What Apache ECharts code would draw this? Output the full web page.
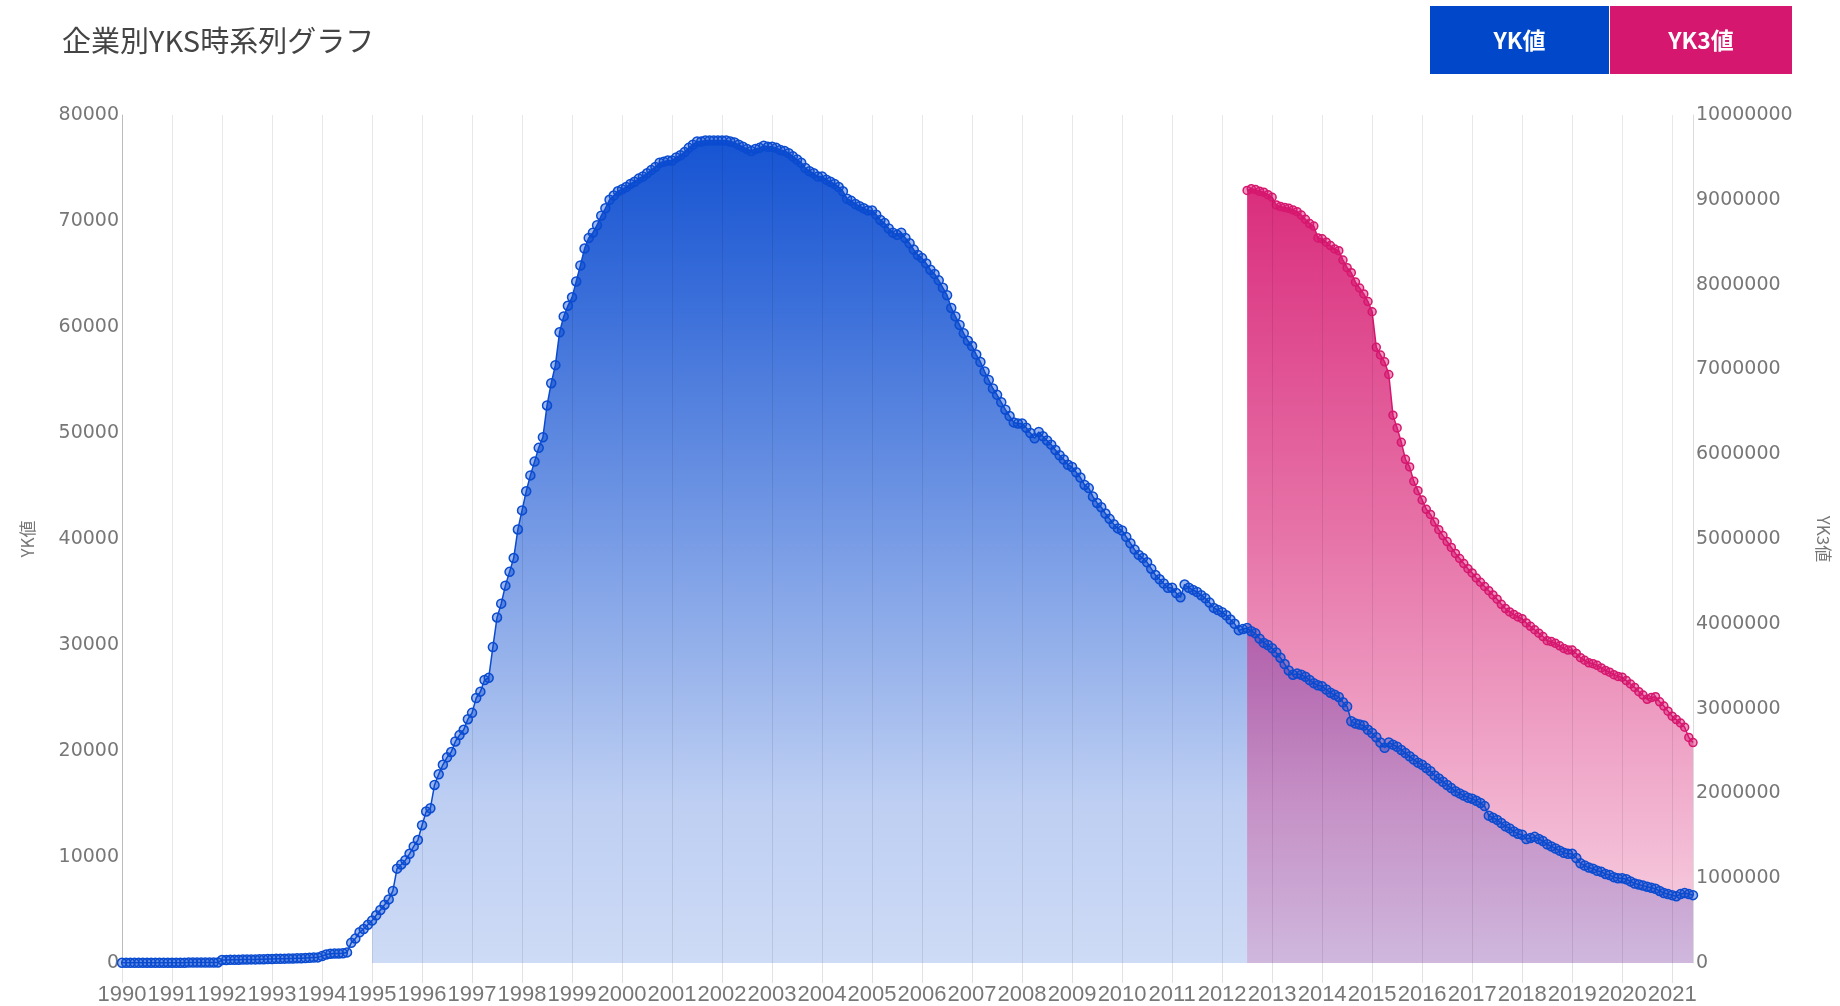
<!DOCTYPE html>
<html>
<head>
<meta charset="utf-8">
<style>
html,body{margin:0;padding:0;background:#fff;}
#chart{width:1840px;height:1006px;}
</style>
<script src="https://cdn.jsdelivr.net/npm/echarts@6/dist/echarts.min.js"></script>
</head>
<body>
<div id="chart"></div>
<script>
// ---- data ----
const titleText = '企業別YKS時系列グラフ';
const seriesNames = ['YK値', 'YK3値'];
const startYear = 1990;           // first month of the YK series: 1990-01
const areaStartMonth = '1995-01'; // YK fill begins here
const pinkStartMonth = '2012-07'; // first month of the YK3 series

// YK値 monthly, 1990-01 .. 2021-06
const blueValues = [
  20,20,20,20,20,30,30,30,30,30,30,30,
  30,30,30,30,40,40,40,40,40,40,40,50,
  280,290,300,300,310,320,330,340,340,350,360,370,
  380,390,400,410,420,430,440,450,470,490,510,530,
  650,800,880,900,900,920,1000,1900,2300,2900,3200,3600,
  4000,4500,5000,5500,6000,6800,8900,9300,9700,10300,11000,11600,
  13000,14300,14600,16800,17800,18700,19400,19900,20900,21500,22000,23000,
  23600,25000,25600,26700,26900,29800,32600,33900,35600,36900,38200,40900,
  42700,44500,46000,47300,48600,49600,52600,54700,56400,59500,61000,62000,
  62800,64300,65800,67400,68400,68900,69600,70500,71200,72000,72400,72800,
  73000,73200,73500,73700,74000,74200,74500,74800,75100,75500,75600,75700,
  75700,76000,76200,76500,76900,77200,77500,77500,77600,77600,77600,77600,
  77600,77600,77500,77400,77200,77000,76800,76600,76800,76900,77100,77000,
  77000,76900,76700,76600,76400,76100,75800,75500,75000,74700,74500,74200,
  74200,73900,73700,73500,73200,72800,72100,71900,71600,71400,71200,71000,
  71000,70600,70100,69800,69300,68900,68700,68900,68400,67900,67300,66800,
  66500,66000,65400,65000,64400,63700,63000,61800,61000,60200,59400,58700,
  58200,57400,56700,55800,55000,54200,53600,52900,52200,51600,51000,50900,
  50900,50500,50000,49500,50100,49700,49300,48900,48400,47900,47500,47000,
  46800,46300,45800,45100,44800,44000,43400,43000,42400,41900,41400,41000,
  40800,40200,39600,39000,38500,38200,37800,37200,36600,36200,35800,35400,
  35400,34900,34500,35700,35400,35200,35000,34700,34400,34000,33500,33300,
  33100,32800,32400,32000,31400,31500,31600,31300,31100,30600,30200,30000,
  29700,29300,28800,28200,27600,27200,27300,27200,27000,26700,26400,26200,
  26100,25800,25500,25300,25100,24600,24200,22800,22600,22500,22400,22000,
  21700,21300,20800,20300,20800,20600,20400,20100,19800,19500,19200,18900,
  18700,18400,18100,17700,17400,17100,16800,16500,16200,16000,15800,15600,
  15500,15300,15100,14800,13900,13700,13500,13200,12900,12700,12400,12200,
  12100,11700,11800,11900,11700,11500,11200,11000,10800,10600,10400,10300,
  10300,9900,9400,9200,9000,8900,8700,8600,8400,8300,8100,8000,
  8000,7900,7700,7500,7400,7300,7200,7100,7000,6800,6600,6500,
  6400,6300,6500,6600,6500,6400
];

// YK3値 monthly, 2012-07 .. 2021-06
const pinkValues = [
  9110000,9130000,9120000,9100000,9090000,9060000,
  9030000,8940000,8920000,8910000,8900000,8880000,8860000,8820000,8770000,8720000,8690000,8550000,
  8540000,8500000,8460000,8420000,8400000,8290000,8200000,8140000,8030000,7960000,7890000,7800000,
  7680000,7260000,7170000,7090000,6940000,6460000,6310000,6140000,5940000,5850000,5680000,5570000,
  5460000,5350000,5290000,5200000,5110000,5040000,4970000,4900000,4830000,4770000,4710000,4650000,
  4600000,4540000,4490000,4440000,4390000,4340000,4290000,4230000,4180000,4140000,4110000,4080000,
  4060000,4010000,3970000,3930000,3890000,3850000,3800000,3790000,3770000,3740000,3710000,3690000,
  3690000,3650000,3600000,3570000,3540000,3530000,3510000,3480000,3450000,3430000,3400000,3380000,
  3370000,3330000,3290000,3250000,3200000,3160000,3110000,3130000,3140000,3080000,3030000,2970000,
  2910000,2870000,2830000,2780000,2660000,2600000
];

// left / right axis ranges
const leftAxis = {min: 0, max: 80000, step: 10000};
const rightAxis = {min: 0, max: 10000000, step: 1000000};

// ---- build ----
const categories = [];
for (let i = 0; i < blueValues.length; i++) {
  const y = startYear + Math.floor(i / 12);
  const m = (i % 12) + 1;
  categories.push(y + '-' + (m < 10 ? '0' + m : '' + m));
}
const areaStart = categories.indexOf(areaStartMonth);
const blueAreaData = blueValues.map((v, i) => i < areaStart ? '-' : v);
const pinkStart = categories.indexOf(pinkStartMonth);
const pinkData = categories.map((c, i) => (i >= pinkStart && i - pinkStart < pinkValues.length) ? pinkValues[i - pinkStart] : '-');

const isJan = (idx, val) => categories[idx].slice(5) === '01';

const BLUE = '#0a4bd0';
const PINK = '#d6176f';

const chart = echarts.init(document.getElementById('chart'));
chart.setOption({
  animation: false,
  backgroundColor: '#ffffff',
  title: {
    text: titleText, left: 57, top: 21,
    textStyle: {fontSize: 29, fontWeight: 'normal', color: '#444', fontFamily: '"Noto Sans CJK JP", sans-serif'}
  },
  legend: {
    top: 6, left: 1425, itemGap: -5, itemWidth: 0, itemHeight: 0, padding: 0,
    selectedMode: false,
    data: seriesNames,
    formatter: function (name) { return (name === seriesNames[0] ? '{b|' : '{p|') + name + '}'; },
    textStyle: {
      rich: {
        b: {width: 179, height: 68, lineHeight: 68, align: 'center', backgroundColor: '#0047c9', color: '#ffffff',
            fontSize: 23, fontWeight: 'bold', fontFamily: '"Noto Sans CJK JP", sans-serif'},
        p: {width: 182, height: 68, lineHeight: 68, align: 'center', backgroundColor: '#d6176f', color: '#ffffff',
            fontSize: 23, fontWeight: 'bold', fontFamily: '"Noto Sans CJK JP", sans-serif'}
      }
    }
  },
  grid: {left: 122, right: 147, top: 115, bottom: 43, containLabel: false},
  xAxis: {
    type: 'category', data: categories, boundaryGap: false, z: 3,
    axisLine: {show: false},
    axisTick: {show: true, length: 20, interval: isJan, lineStyle: {color: '#e2e2e2'}},
    axisLabel: {interval: isJan, hideOverlap: false,
                formatter: v => v.slice(0, 4), fontSize: 22, color: '#777',
                fontFamily: '"Liberation Sans", Arial, sans-serif', margin: 21},
    splitLine: {show: true, interval: isJan, lineStyle: {color: 'rgba(0,0,0,0.09)', width: 1}}
  },
  yAxis: [
    {
      type: 'value', min: leftAxis.min, max: leftAxis.max, interval: leftAxis.step,
      name: seriesNames[0], nameLocation: 'middle', nameGap: 86,
      nameTextStyle: {fontSize: 17, color: '#777', fontFamily: '"Noto Sans CJK JP", sans-serif'},
      axisLine: {show: true, lineStyle: {color: '#cfcfcf'}},
      axisTick: {show: false}, splitLine: {show: false},
      axisLabel: {fontSize: 19, color: '#777', fontFamily: '"DejaVu Sans", sans-serif', margin: 3, formatter: v => String(v)}
    },
    {
      type: 'value', position: 'right', min: rightAxis.min, max: rightAxis.max, interval: rightAxis.step,
      name: seriesNames[1], nameLocation: 'middle', nameGap: 122, nameRotate: -90,
      nameTextStyle: {fontSize: 17, color: '#777', fontFamily: '"Noto Sans CJK JP", sans-serif'},
      axisLine: {show: true, lineStyle: {color: '#dcdcdc'}},
      axisTick: {show: false}, splitLine: {show: false},
      axisLabel: {fontSize: 19, color: '#777', fontFamily: '"DejaVu Sans", sans-serif', margin: 3, formatter: v => String(v)}
    }
  ],
  series: [
    {
      name: seriesNames[0], type: 'line', data: blueAreaData, symbol: 'none', silent: true, z: 1,
      lineStyle: {width: 0, opacity: 0}, itemStyle: {color: BLUE},
      areaStyle: {
        opacity: 1,
        color: new echarts.graphic.LinearGradient(0, 0, 0, 1, [
          {offset: 0, color: 'rgba(10,75,208,0.95)'},
          {offset: 0.2, color: 'rgba(10,75,208,0.8)'},
          {offset: 0.5, color: 'rgba(10,75,208,0.54)'},
          {offset: 0.8, color: 'rgba(10,75,208,0.27)'},
          {offset: 1, color: 'rgba(10,75,208,0.2)'}
        ])
      }
    },
    {
      name: seriesNames[1], type: 'line', yAxisIndex: 1, data: pinkData, z: 2,
      showAllSymbol: true, symbol: 'circle', symbolSize: 8,
      itemStyle: {color: 'rgba(214,23,111,0.45)', borderColor: PINK, borderWidth: 1.5},
      lineStyle: {color: PINK, width: 1.5},
      areaStyle: {
        opacity: 1,
        color: new echarts.graphic.LinearGradient(0, 0, 0, 1, [
          {offset: 0, color: 'rgba(214,23,111,0.9)'},
          {offset: 0.45, color: 'rgba(214,23,111,0.6)'},
          {offset: 1, color: 'rgba(214,23,111,0.18)'}
        ])
      }
    },
    {
      name: seriesNames[0], type: 'line', data: blueValues, z: 3,
      showAllSymbol: true, symbol: 'circle', symbolSize: 9,
      itemStyle: {color: 'rgba(10,75,208,0.4)', borderColor: BLUE, borderWidth: 1.5},
      lineStyle: {color: BLUE, width: 1.5}
    }
  ]
});
</script>
</body>
</html>
